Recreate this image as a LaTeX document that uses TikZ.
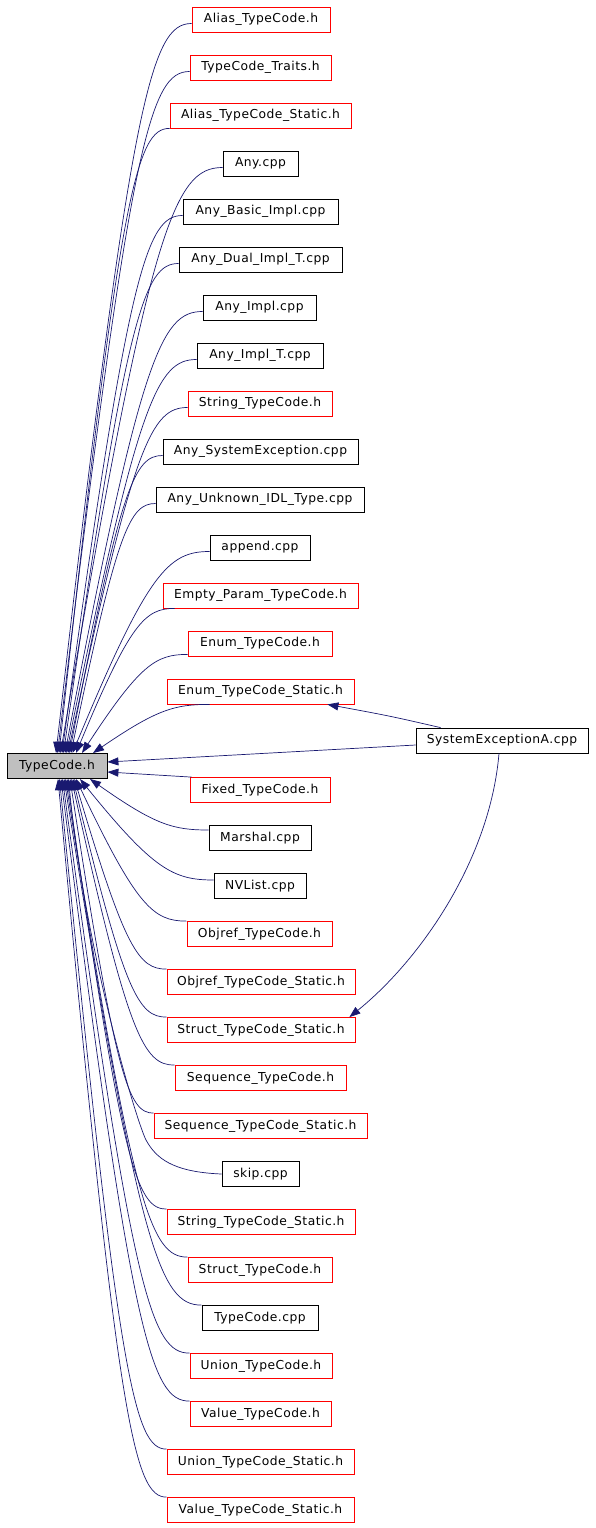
\documentclass[tikz,border=0pt]{standalone}
\usepackage{fontspec}
\setmainfont{DejaVu Sans}[LetterSpace=4]
\usetikzlibrary{arrows.meta,calc}
\definecolor{edgeblue}{HTML}{191970}
\definecolor{boxred}{HTML}{FF0000}
\definecolor{boxgray}{HTML}{BFBFBF}
\newcommand{\tcedge}[2]{\draw[edge] let \p1=(#1), \p2=(#2) in (\p1) .. controls ({\x1-0.3*(\x1-\x2)},\y1) and ({\x1-0.45*(\x1-\x2)},{\y1+0.1*(\y2-\y1)}) .. (\p2);}
\begin{document}
\begin{tikzpicture}[x=1pt,y=-1pt,
  box/.style={draw, line width=0.8pt, minimum height=25pt, inner sep=0pt, font=\fontsize{12.3}{14}\selectfont},
  redbox/.style={box, draw=boxred},
  blackbox/.style={box, draw=black},
  edge/.style={draw=edgeblue, line width=0.7pt, -{Triangle[length=11pt,width=8pt]}}]
\useasboundingbox (0,0) rectangle (595,1528);
\node[box, draw=black, fill=boxgray, minimum width=100pt] (tc) at (57,766) {TypeCode.h};
\node[blackbox, minimum width=172pt] (se) at (502,740.5) {SystemExceptionA.cpp};
\node[redbox, minimum width=138pt] (n1) at (261,19.5) {Alias\_TypeCode.h};
\node[redbox, minimum width=141pt] (n2) at (260.5,67.5) {TypeCode\_Traits.h};
\node[redbox, minimum width=181pt] (n3) at (260.5,115.5) {Alias\_TypeCode\_Static.h};
\node[blackbox, minimum width=75pt] (n4) at (260.5,163.5) {Any.cpp};
\node[blackbox, minimum width=155pt] (n5) at (260.5,211.5) {Any\_Basic\_Impl.cpp};
\node[blackbox, minimum width=163pt] (n6) at (260.5,259.5) {Any\_Dual\_Impl\_T.cpp};
\node[blackbox, minimum width=113pt] (n7) at (259.5,307.5) {Any\_Impl.cpp};
\node[blackbox, minimum width=126pt] (n8) at (260,355.5) {Any\_Impl\_T.cpp};
\node[redbox, minimum width=144pt] (n9) at (260,403.5) {String\_TypeCode.h};
\node[blackbox, minimum width=195pt] (n10) at (260.5,451.5) {Any\_SystemException.cpp};
\node[blackbox, minimum width=208pt] (n11) at (260,499.5) {Any\_Unknown\_IDL\_Type.cpp};
\node[blackbox, minimum width=100pt] (n12) at (260,547.5) {append.cpp};
\node[redbox, minimum width=195pt] (n13) at (260.5,595.5) {Empty\_Param\_TypeCode.h};
\node[redbox, minimum width=144pt] (n14) at (260,643.5) {Enum\_TypeCode.h};
\node[redbox, minimum width=187pt] (n15) at (260.5,691.5) {Enum\_TypeCode\_Static.h};
\node[redbox, minimum width=140pt] (n16) at (260,790) {Fixed\_TypeCode.h};
\node[blackbox, minimum width=102pt] (n17) at (260,838) {Marshal.cpp};
\node[blackbox, minimum width=92pt] (n18) at (260,886) {NVList.cpp};
\node[redbox, minimum width=145pt] (n19) at (259.5,934) {Objref\_TypeCode.h};
\node[redbox, minimum width=188pt] (n20) at (261,982) {Objref\_TypeCode\_Static.h};
\node[redbox, minimum width=188pt] (n21) at (261,1030) {Struct\_TypeCode\_Static.h};
\node[redbox, minimum width=171pt] (n22) at (260.5,1078) {Sequence\_TypeCode.h};
\node[redbox, minimum width=213pt] (n23) at (260.5,1126) {Sequence\_TypeCode\_Static.h};
\node[blackbox, minimum width=77pt] (n24) at (260.5,1174) {skip.cpp};
\node[redbox, minimum width=188pt] (n25) at (261,1222) {String\_TypeCode\_Static.h};
\node[redbox, minimum width=144pt] (n26) at (260,1270) {Struct\_TypeCode.h};
\node[blackbox, minimum width=116pt] (n27) at (260,1318) {TypeCode.cpp};
\node[redbox, minimum width=142pt] (n28) at (261,1366) {Union\_TypeCode.h};
\node[redbox, minimum width=141pt] (n29) at (260.5,1414) {Value\_TypeCode.h};
\node[redbox, minimum width=187pt] (n30) at (260.5,1462) {Union\_TypeCode\_Static.h};
\node[redbox, minimum width=187pt] (n31) at (260.5,1510) {Value\_TypeCode\_Static.h};
% edges from upper nodes
\foreach \nm/\xe in {n1/56,n2/57.5,n4/60.5,n5/62,n6/63.5,n7/65,n8/66.5,n9/68,n10/69.5,n11/71,n12/72.5}
  {\tcedge{$(\nm.west)+(0,4)$}{\xe,753}}
\tcedge{n3.south west}{59,753}
\tcedge{$(n13.south west)+(12,0)$}{76,753}
\tcedge{$(n14.south west)+(0,-2)$}{82,753}
\tcedge{$(n15.south west)+(43,0)$}{93,753}
% edges from lower nodes
\draw[edge] ($(n16.north west)+(2,0)$) -- ($(tc.east)+(0,6)$);
\tcedge{$(n17.west)+(0,-8)$}{90,779}
\tcedge{$(n18.west)+(0,-6)$}{80,779}
\foreach \nm/\xe in {n19/76,n20/74.5,n21/73,n22/71.5,n23/70,n25/67,n26/65.5,n27/64,n28/62.5,n29/61,n30/59.5,n31/58}
  {\tcedge{\nm.north west}{\xe,779}}
\coordinate (skipbend) at (146,1140);
\draw[edge] (n24.west) .. controls (172,1172) and (156,1158) .. (skipbend) .. controls (136,1120) and (85,950) .. (68.5,779);
% edges from SystemExceptionA.cpp
\draw[edge] ($(se.west)+(0,4.5)$) -- ($(tc.east)+(0,-4)$);
\draw[edge] ($(se.north west)+(25,0)$) .. controls (390,716) .. ($(n15.south east)+(-27,0)$);
\draw[edge] ($(se.south)+(-3,0)$) .. controls (490,860) and (420,960) .. ($(n21.north east)+(-6,0)$);
\end{tikzpicture}
\end{document}
